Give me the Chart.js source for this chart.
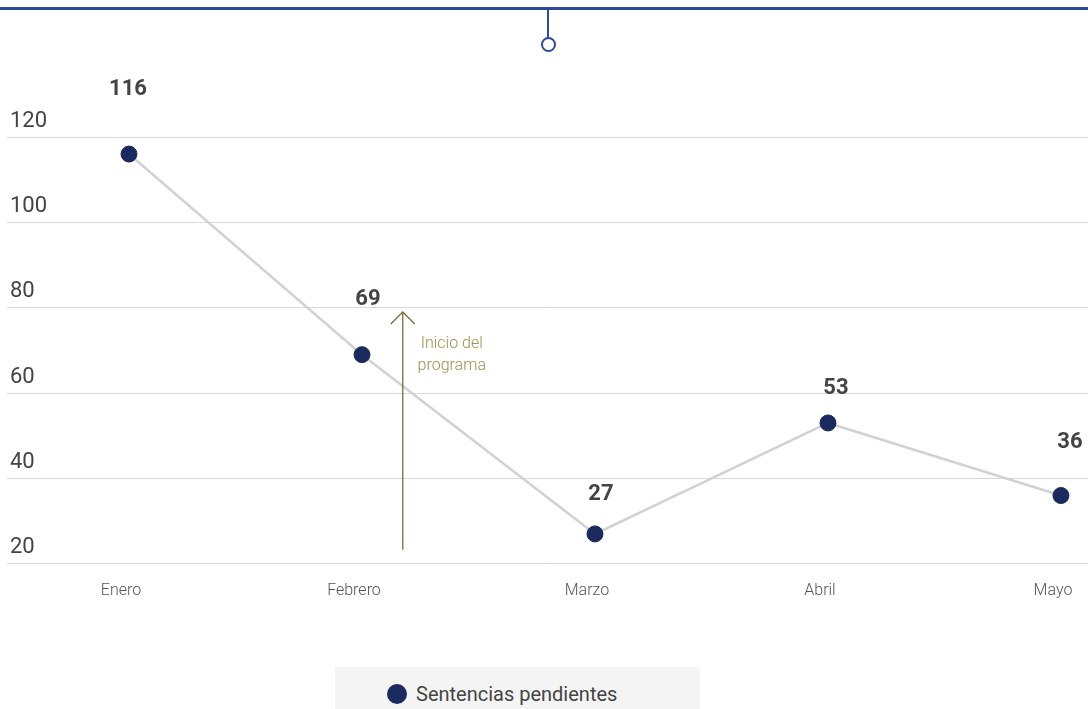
<!DOCTYPE html>
<html>
<head>
<meta charset="utf-8">
<script src="https://cdn.jsdelivr.net/npm/chart.js@4.4.1/dist/chart.umd.min.js"></script>
<style>
  html, body { margin: 0; padding: 0; background: #fff; }
  body { width: 1088px; height: 709px; position: relative; overflow: hidden; font-family: Roboto, sans-serif; }
  .top-rule { position: absolute; left: 0; top: 7px; width: 1088px; height: 3px; background: #2d4a99; }
  .top-stem { position: absolute; left: 547px; top: 8px; width: 2px; height: 30px; background: #2d4a99; }
  .top-dot { position: absolute; left: 541px; top: 37px; width: 11px; height: 11px; border: 2px solid #2d4a99; border-radius: 50%; background: #fff; }
  #lineChart { position: absolute; left: 0; top: 0; }
  .legend { position: absolute; left: 335px; top: 667px; width: 365px; height: 50px; background: #f4f4f4; }
  .legend-item { position: absolute; left: 52px; top: 15px; display: flex; align-items: center; font-size: 20px; color: #444; }
  .legend-item i { display: inline-block; width: 20px; height: 20px; border-radius: 50%; background: #1b2a5e; margin-right: 9px; }
</style>
</head>
<body>
<div class="top-rule"></div>
<div class="top-stem"></div>
<div class="top-dot"></div>
<canvas id="lineChart" width="1088" height="620"></canvas>
<div class="legend"><div class="legend-item"><i></i><span id="legend-text"></span></div></div>

<script>
const months = ['Enero', 'Febrero', 'Marzo', 'Abril', 'Mayo'];
const pendientes = [116, 69, 27, 53, 36];
const seriesName = 'Sentencias pendientes';
const yTicks = [20, 40, 60, 80, 100, 120];

// label nudges (px), as placed in the original
const labelShiftX = [-1, 6, 6, 8, 9];
const labelLift = [65, 55, 39, 34, 53];

// "Inicio del programa" marker, in data units
const markerX = 1.175;
const markerFrom = 23.3;
const markerTo = 79;

document.getElementById('legend-text').innerText = seriesName;

const valueLabels = {
    id: 'valueLabels',
    afterDatasetsDraw(chart) {
        const ctx = chart.ctx;
        const meta = chart.getDatasetMeta(0);
        ctx.save();
        ctx.font = 'bold 22px Roboto';
        ctx.fillStyle = '#444';
        ctx.textAlign = 'center';
        ctx.textBaseline = 'middle';
        meta.data.forEach((pt, i) => {
            ctx.fillText(String(pendientes[i]), pt.x + labelShiftX[i], pt.y - labelLift[i]);
        });
        ctx.restore();
    }
};

const programMarker = {
    id: 'programMarker',
    afterDatasetsDraw(chart) {
        const ctx = chart.ctx;
        const x = chart.scales.x.getPixelForValue(markerX);
        const y0 = chart.scales.y.getPixelForValue(markerFrom);
        const y1 = chart.scales.y.getPixelForValue(markerTo);
        ctx.save();
        ctx.strokeStyle = '#7d6c3c';
        ctx.lineWidth = 1.3;
        ctx.beginPath();
        ctx.moveTo(x, y0);
        ctx.lineTo(x, y1);
        ctx.moveTo(x - 12, y1 + 12);
        ctx.lineTo(x, y1);
        ctx.lineTo(x + 12, y1 + 12);
        ctx.stroke();
        ctx.fillStyle = '#a0904f';
        ctx.font = '300 16px Roboto';
        ctx.textAlign = 'center';
        ctx.textBaseline = 'middle';
        ctx.fillText('Inicio del', x + 49, y1 + 32);
        ctx.fillText('programa', x + 49, y1 + 54);
        ctx.restore();
    }
};

function noEdgePadding(scale) {
    scale.paddingLeft = 0;
    scale.paddingRight = 0;
    scale.paddingTop = 0;
    scale.paddingBottom = 0;
}

const ctx = document.getElementById('lineChart').getContext('2d');
const myChart = new Chart(ctx, {
    type: 'line',
    data: {
        datasets: [{
            label: seriesName,
            data: pendientes.map((v, i) => ({ x: i, y: v })),
            borderColor: '#d2d2d2',
            borderWidth: 2.5,
            pointBackgroundColor: '#1b2a5e',
            pointBorderColor: '#1b2a5e',
            pointRadius: 8,
            pointBorderWidth: 1,
            tension: 0
        }]
    },
    options: {
        responsive: false,
        animation: false,
        layout: { autoPadding: false, padding: { top: 137, left: 7, right: 0, bottom: 1 } },
        plugins: { legend: { display: false }, tooltip: { enabled: false } },
        scales: {
            x: {
                type: 'linear',
                min: -0.5236,
                max: 4.116,
                afterFit: noEdgePadding,
                grid: { display: false, drawTicks: false },
                border: { display: false },
                ticks: {
                    stepSize: 1,
                    includeBounds: false,
                    autoSkip: false,
                    maxRotation: 0,
                    padding: 18,
                    labelOffset: -8,
                    color: '#555',
                    font: { family: 'Roboto', size: 16, weight: 300 },
                    callback: v => Number.isInteger(v) ? months[v] : ''
                }
            },
            y: {
                min: 20,
                max: 120,
                afterFit: s => { noEdgePadding(s); s.width = 0; },
                afterBuildTicks: axis => { axis.ticks = yTicks.map(v => ({ value: v })); },
                grid: { color: '#d9d9d9', lineWidth: 1, drawTicks: false },
                border: { display: false },
                ticks: {
                    mirror: true,
                    padding: 3,
                    labelOffset: -16,
                    color: '#444',
                    font: { family: 'Roboto', size: 22, weight: 400 }
                }
            }
        }
    },
    plugins: [valueLabels, programMarker]
});
</script>
</body>
</html>
